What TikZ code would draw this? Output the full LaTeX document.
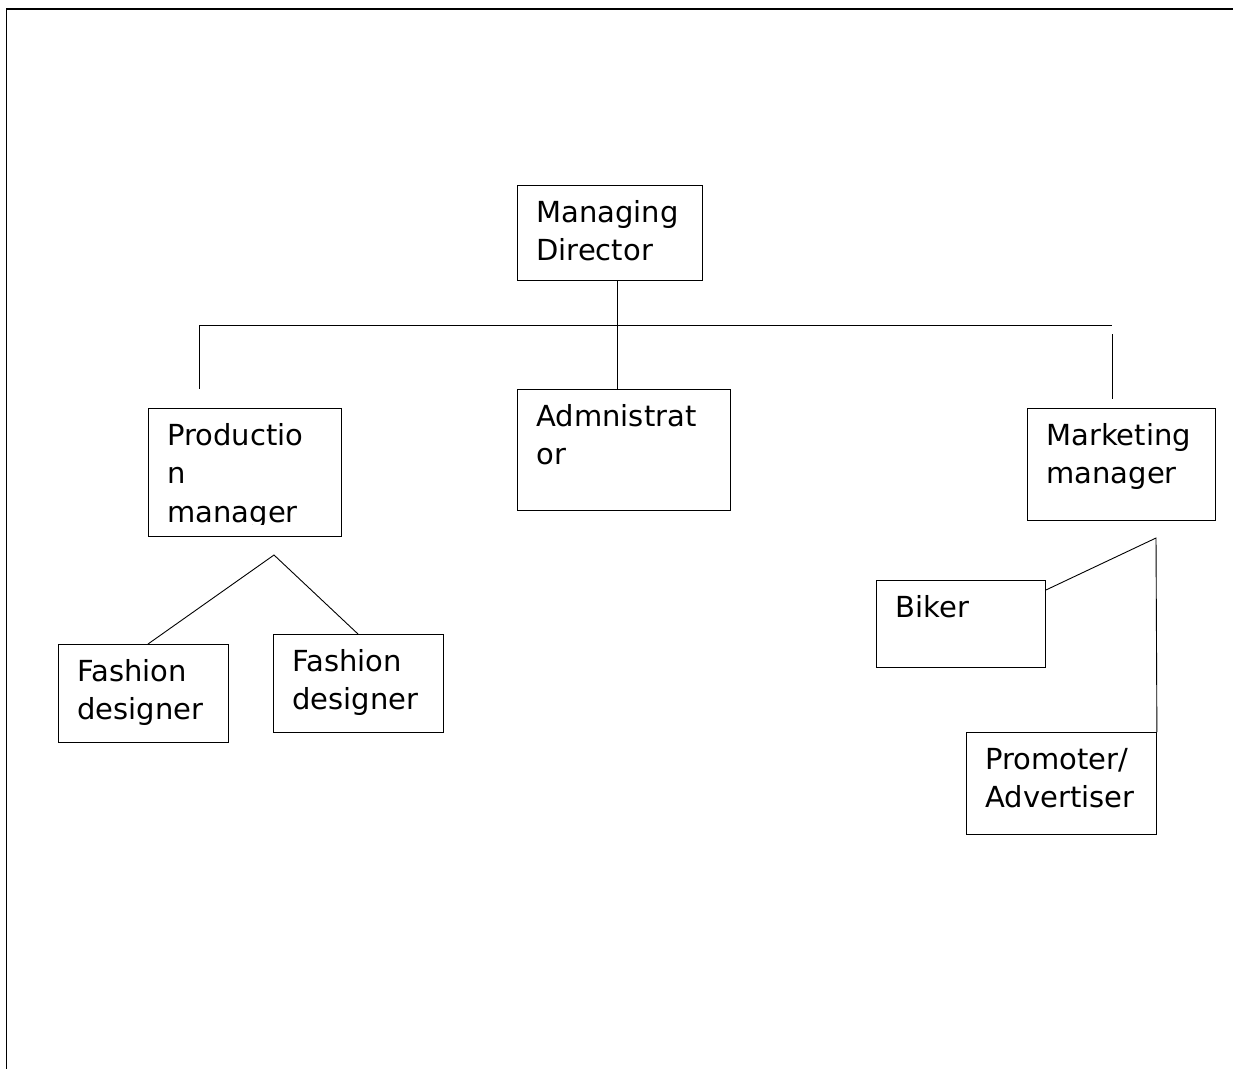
\documentclass[tikz,border=0pt]{standalone}
\usepackage{fontspec}
\setmainfont{DejaVu Sans}
\begin{document}
\begin{tikzpicture}[x=1pt, y=-1pt, line width=0.9pt,
    box/.style 2 args={draw, anchor=north west, inner sep=0pt, minimum width=#1, minimum height=#2},
    txt/.style={anchor=base west, inner sep=0pt, align=left, text width=180pt, font=\fontsize{29}{38.5}\selectfont}]
    \useasboundingbox (0,0) rectangle (1233,1069);
    \draw[line width=1.3pt] (1233,9) -- (6.5,9) -- (6.5,1069);
    \node[box={185pt}{95pt}] (md) at (517,185) {};
    \node[box={213pt}{121pt}] (adm) at (517,389) {};
    \node[box={193pt}{128pt}] (pm) at (148,408) {};
    \node[box={188pt}{112pt}] (mm) at (1027,408) {};
    \node[box={170pt}{98pt}] (fd1) at (58,644) {};
    \node[box={170pt}{98pt}] (fd2) at (273,634) {};
    \node[box={169pt}{87pt}] (bk) at (876,580) {};
    \node[box={190pt}{102pt}] (pa) at (966,732) {};
    \node[txt] (mdt) at ([shift={(19,37)}]md.north west) {Managing\\Director};
    \node[txt] (admt) at ([shift={(19,37)}]adm.north west) {Admnistrat\\or};
    \begin{scope}
        \clip (pm.north west) rectangle ([yshift=12pt]pm.south east);
        \node[txt] (pmt) at ([shift={(19,37)}]pm.north west) {Productio\\n\\manager};
    \end{scope}
    \node[txt] (mmt) at ([shift={(19,37)}]mm.north west) {Marketing\\manager};
    \node[txt] (fd1t) at ([shift={(19,37)}]fd1.north west) {Fashion\\designer};
    \node[txt] (fd2t) at ([shift={(19,37)}]fd2.north west) {Fashion\\designer};
    \node[txt] (bkt) at ([shift={(19,37)}]bk.north west) {Biker};
    \node[txt] (pat) at ([shift={(19,37)}]pa.north west) {Promoter/\\Advertiser};
    \coordinate (busl) at (199,325);
    \coordinate (busr) at (1112,325);
    \coordinate (pmtop) at (199,389);
    \coordinate (mmgap) at (1112,334);
    \coordinate (mmtop) at (1112,399);
    \coordinate (pmfork) at (274,555);
    \coordinate (mmfork) at (1156,538);
    \draw ([xshift=100pt]md.south west) -- ([xshift=100pt]adm.north west);
    \draw (busl) -- (busr);
    \draw (busl) -- (pmtop);
    \draw (mmgap) -- (mmtop);
    \draw ([xshift=90pt]fd1.north west) -- (pmfork) -- ([xshift=85pt]fd2.north west);
    \draw ([yshift=-10pt]bk.north east) -- (mmfork) -- (pa.north east);
\end{tikzpicture}
\end{document}
